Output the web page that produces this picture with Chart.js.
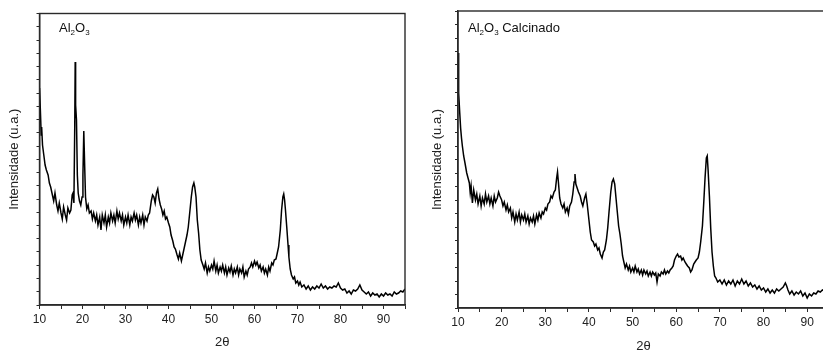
<!DOCTYPE html>
<html lang="pt">
<head>
    <meta charset="UTF-8">
    <title>DRX Al2O3</title>
    <script src="https://cdn.jsdelivr.net/npm/chart.js"></script>
    <style>
        html, body { margin: 0; padding: 0; background: #fff; overflow: hidden; }
        body { width: 823px; height: 350px; position: relative; }
        .box { position: absolute; top: 0; }
        #boxA { left: 0; width: 412px; height: 350px; }
        #boxB { left: 420px; width: 420px; height: 354px; }
        .tag {
            position: absolute; font-family: "Liberation Sans", Arial, sans-serif;
            font-size: 13px; color: #111; white-space: nowrap; line-height: 1;
        }
        .tag sub { font-size: 8px; vertical-align: -3px; }
    </style>
</head>
<body>
    <div class="box" id="boxA"><canvas id="chartA"></canvas></div>
    <div class="box" id="boxB"><canvas id="chartB"></canvas></div>
    <div class="tag" style="left:59px; top:21px;">Al<sub>2</sub>O<sub>3</sub></div>
    <div class="tag" style="left:468px; top:21px;">Al<sub>2</sub>O<sub>3</sub> Calcinado</div>

    <script>
        // Al2O3 (as received)
        const thetaA = [10.0,10.2,10.4,10.5,10.7,11.0,11.3,11.6,12.0,12.3,12.6,13.0,13.3,13.6,14.0,14.3,14.6,15.0,15.3,15.6,
            16.0,16.3,16.6,17.0,17.3,17.6,17.8,18.0,18.2,18.3,18.4,18.6,18.8,19.0,19.3,19.6,19.9,20.1,20.3,20.5,
            20.7,21.0,21.3,21.6,22.0,22.3,22.6,23.0,23.3,23.6,24.0,24.3,24.6,25.0,25.3,25.6,26.0,26.3,26.6,27.0,
            27.3,27.6,28.0,28.3,28.6,29.0,29.3,29.6,30.0,30.3,30.6,31.0,31.3,31.6,32.0,32.3,32.6,33.0,33.3,33.6,
            34.0,34.3,34.6,35.0,35.3,35.6,36.0,36.3,36.6,36.9,37.2,37.5,37.8,38.1,38.4,38.7,39.0,39.3,39.6,40.0,
            40.3,40.6,41.0,41.3,41.6,42.0,42.3,42.6,43.0,43.3,43.6,44.0,44.3,44.6,45.0,45.3,45.6,45.9,46.1,46.4,
            46.7,47.0,47.3,47.6,48.0,48.3,48.6,49.0,49.3,49.6,50.0,50.3,50.6,51.0,51.3,51.6,52.0,52.3,52.6,53.0,
            53.3,53.6,54.0,54.3,54.6,55.0,55.3,55.6,56.0,56.3,56.6,57.0,57.3,57.6,58.0,58.3,58.6,59.0,59.3,59.6,
            60.0,60.3,60.6,61.0,61.3,61.6,62.0,62.3,62.6,63.0,63.3,63.6,64.0,64.3,64.6,65.0,65.3,65.6,66.0,66.3,
            66.6,66.8,67.0,67.2,67.5,67.8,68.0,68.3,68.6,69.0,69.3,69.6,70.0,70.3,70.6,71.0,71.5,72.0,72.5,73.0,
            73.5,74.0,74.5,75.0,75.5,76.0,76.5,77.0,77.5,78.0,78.5,79.0,79.5,80.0,80.5,81.0,81.5,82.0,82.5,83.0,
            83.5,84.0,84.5,85.0,85.5,86.0,86.5,87.0,87.5,88.0,88.5,89.0,89.5,90.0,90.5,91.0,91.5,92.0,92.5,93.0,
            93.5,94.0,94.5,95.0];
        const intA = [217,195,170,178,160,150,140,135,130,122,118,110,104,112,100,94,102,92,86,98,
            90,85,97,92,95,110,112,102,180,243,200,185,130,112,104,100,108,130,174,140,
            108,96,100,92,94,86,92,84,90,80,88,75,90,82,90,78,88,82,92,84,
            90,82,94,86,92,84,90,80,88,82,90,80,88,84,92,85,90,80,88,82,
            90,80,88,84,90,92,104,110,108,102,112,116,106,100,96,90,94,86,88,82,
            78,70,64,58,56,50,46,52,44,50,56,64,70,78,95,108,118,122,118,108,
            85,72,55,45,40,36,42,32,38,34,40,36,44,34,40,32,38,34,40,32,
            38,30,37,33,39,30,36,32,38,30,36,32,38,28,34,30,36,38,42,38,
            44,40,43,37,40,34,38,32,36,30,38,34,42,40,45,46,52,58,75,95,
            108,111,105,95,78,60,48,36,30,26,28,22,24,20,23,18,20,16,19,15,
            18,16,19,17,21,17,19,16,18,17,19,18,22,17,15,16,12,14,11,15,
            14,16,20,15,13,11,13,9,12,10,11,8,11,9,12,10,11,9,13,11,
            12,14,13,16];

        // Al2O3 calcinado
        const thetaB = [10.0,10.1,10.2,10.4,10.6,10.8,11.0,11.3,11.6,12.0,12.3,12.6,12.8,13.0,13.3,13.6,14.0,14.3,14.6,15.0,
            15.3,15.6,16.0,16.3,16.6,17.0,17.3,17.6,18.0,18.3,18.6,19.0,19.3,19.6,20.0,20.3,20.6,21.0,21.3,21.6,
            22.0,22.3,22.6,23.0,23.3,23.6,24.0,24.3,24.6,25.0,25.3,25.6,26.0,26.3,26.6,27.0,27.3,27.6,28.0,28.3,
            28.6,29.0,29.3,29.6,30.0,30.3,30.6,31.0,31.3,31.6,32.0,32.3,32.6,32.8,33.0,33.3,33.6,34.0,34.3,34.6,
            35.0,35.3,35.6,36.0,36.3,36.6,36.8,37.0,37.3,37.6,38.0,38.3,38.6,39.0,39.3,39.6,40.0,40.3,40.6,41.0,
            41.3,41.6,42.0,42.3,42.6,43.0,43.3,43.6,44.0,44.3,44.6,45.0,45.3,45.6,45.9,46.2,46.5,46.8,47.1,47.4,
            47.7,48.0,48.3,48.6,49.0,49.3,49.6,50.0,50.3,50.6,51.0,51.3,51.6,52.0,52.3,52.6,53.0,53.3,53.6,54.0,
            54.3,54.6,55.0,55.3,55.6,55.9,56.3,56.6,57.0,57.3,57.6,58.0,58.3,58.6,59.0,59.3,59.6,60.0,60.3,60.6,
            61.0,61.3,61.6,62.0,62.3,62.6,63.0,63.3,63.6,64.0,64.3,64.6,65.0,65.3,65.6,66.0,66.3,66.6,66.9,67.1,
            67.3,67.6,67.9,68.2,68.5,68.8,69.1,69.5,70.0,70.5,71.0,71.5,72.0,72.5,73.0,73.5,74.0,74.5,75.0,75.5,
            76.0,76.5,77.0,77.5,78.0,78.5,79.0,79.5,80.0,80.5,81.0,81.5,82.0,82.5,83.0,83.5,84.0,84.5,85.0,85.3,
            85.6,86.0,86.5,87.0,87.5,88.0,88.5,89.0,89.5,90.0,90.5,91.0,91.5,92.0,92.5,93.0,93.5,94.0,94.5,95.0];
        const intB = [255,235,215,195,180,170,162,152,145,135,130,125,115,122,105,118,108,114,104,112,
            102,110,104,114,106,112,104,110,102,112,106,110,116,112,108,102,106,98,103,96,
            100,90,96,86,94,88,96,86,93,88,94,86,92,84,90,86,92,84,93,88,
            95,90,96,94,100,98,104,106,112,110,116,118,130,136,126,110,104,100,104,96,
            100,94,102,106,114,126,134,124,120,116,112,106,102,110,114,104,88,76,68,66,
            62,64,58,60,54,50,56,58,68,80,96,116,126,129,124,110,96,82,74,64,
            52,46,40,44,38,42,36,40,36,42,36,39,34,38,33,38,34,37,32,36,
            32,36,33,35,26,34,32,36,34,38,34,37,35,38,40,42,48,52,54,51,
            52,48,50,46,44,42,40,36,38,44,46,48,50,56,66,82,105,130,150,152,
            138,112,80,56,42,32,30,26,28,24,28,23,27,24,28,22,27,24,29,24,
            27,22,25,21,23,19,22,18,20,16,19,15,18,15,19,17,19,21,25,22,
            18,14,17,13,16,14,17,12,15,10,14,12,15,14,17,16,18,17,19,18];

        const xTicksMajor = [10, 20, 30, 40, 50, 60, 70, 80, 90];
        const xLabel = '2\u03B8';
        const yLabel = 'Intensidade (u.a.)';

        const fontFamily = '"Liberation Sans", Arial, sans-serif';
        const axisColor = '#2a2a2a';

        // draws the frame round the plot area
        const frame = {
            id: 'frame',
            afterDatasetsDraw(chart) {
                const a = chart.chartArea, ctx = chart.ctx;
                ctx.save();
                ctx.strokeStyle = axisColor;
                ctx.lineWidth = 1.4;
                ctx.strokeRect(a.left, a.top, a.right - a.left, a.bottom - a.top);
                ctx.restore();
            }
        };

        function makeChart(id, theta, inten, cfg) {
            const pts = theta.map((t, i) => ({ x: t, y: inten[i] }));
            return new Chart(document.getElementById(id), {
                type: 'line',
                data: {
                    datasets: [{
                        data: pts,
                        borderColor: '#000',
                        borderWidth: 1.5,
                        pointRadius: 0,
                        tension: 0,
                        fill: false
                    }]
                },
                options: {
                    responsive: true,
                    maintainAspectRatio: false,
                    animation: false,
                    events: [],
                    layout: { padding: { top: cfg.top, right: cfg.right, left: 0, bottom: 0 } },
                    plugins: { legend: { display: false }, tooltip: { enabled: false } },
                    scales: {
                        x: {
                            type: 'linear',
                            min: 10,
                            max: 95,
                            afterFit: s => { s.height = cfg.xh; },
                            border: { color: axisColor, width: 1.4 },
                            grid: { drawOnChartArea: false, drawTicks: true, tickLength: 4, color: axisColor, lineWidth: 1 },
                            ticks: {
                                stepSize: 5,
                                autoSkip: false,
                                maxRotation: 0,
                                padding: 3,
                                color: '#222',
                                font: { family: fontFamily, size: 12 },
                                callback: v => xTicksMajor.includes(v) ? v : ''
                            },
                            title: {
                                display: true,
                                text: xLabel,
                                color: '#222',
                                font: { family: fontFamily, size: 13 },
                                padding: { top: 0, bottom: 0 }
                            }
                        },
                        y: {
                            min: 0,
                            max: cfg.ymax,
                            afterFit: s => { s.width = cfg.yw; },
                            border: { color: axisColor, width: 1.4 },
                            grid: { drawOnChartArea: false, drawTicks: true, tickLength: 3, color: axisColor, lineWidth: 1 },
                            ticks: { display: false, stepSize: cfg.ymax / 22 },
                            title: {
                                display: true,
                                text: yLabel,
                                color: '#222',
                                font: { family: fontFamily, size: 13 },
                                padding: { top: cfg.tpad, bottom: 0 }
                            }
                        }
                    }
                },
                plugins: [frame]
            });
        }

        makeChart('chartA', thetaA, intA, { top: 13.5, right: 7, xh: 45, yw: 39.5, ymax: 291.5, tpad: 7 });
        makeChart('chartB', thetaB, intB, { top: 11, right: 11, xh: 46, yw: 38, ymax: 297, tpad: 10 });
    </script>
</body>
</html>
